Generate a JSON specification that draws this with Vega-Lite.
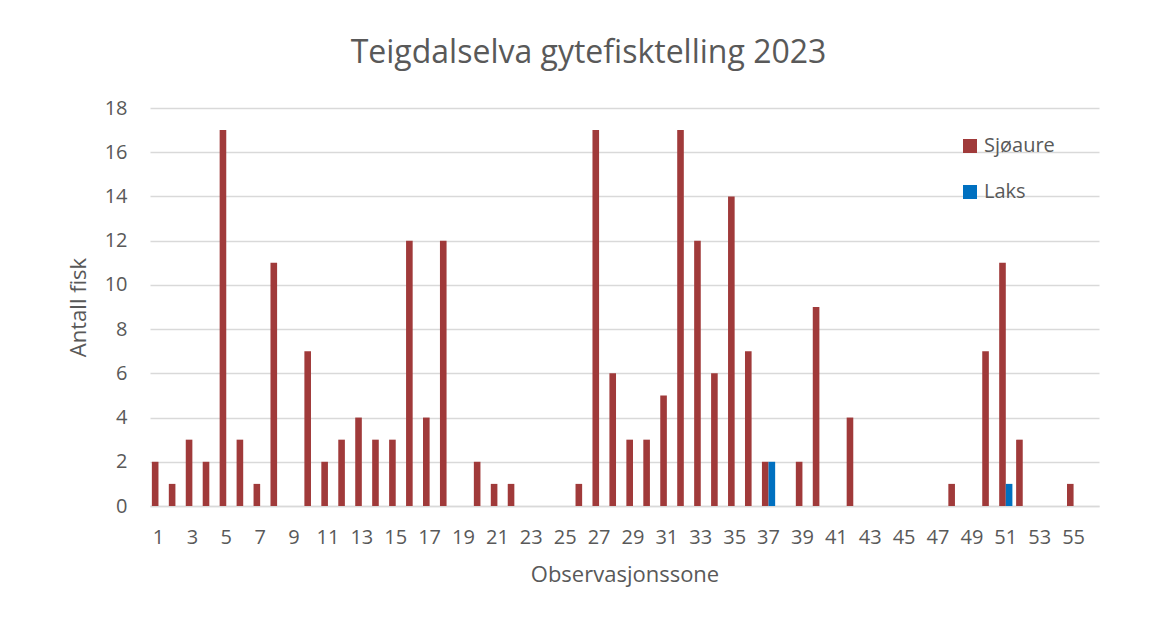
{
  "$schema": "https://vega.github.io/schema/vega-lite/v6.json",
  "autosize": {"type": "none"},
  "width": 949,
  "height": 398,
  "padding": {"left": 150, "top": 108, "right": 75, "bottom": 115},
  "background": "white",
  "title": {
    "text": "Teigdalselva gytefisktelling 2023",
    "font": "Open Sans",
    "fontSize": 32,
    "fontWeight": "normal",
    "color": "#595959",
    "anchor": "middle",
    "dx": -36,
    "offset": 28
  },
  "data": {
    "values": [
      {"sone": 1, "art": "Sjøaure", "antall": 2},
      {"sone": 2, "art": "Sjøaure", "antall": 1},
      {"sone": 3, "art": "Sjøaure", "antall": 3},
      {"sone": 4, "art": "Sjøaure", "antall": 2},
      {"sone": 5, "art": "Sjøaure", "antall": 17},
      {"sone": 6, "art": "Sjøaure", "antall": 3},
      {"sone": 7, "art": "Sjøaure", "antall": 1},
      {"sone": 8, "art": "Sjøaure", "antall": 11},
      {"sone": 9, "art": "Sjøaure", "antall": 0},
      {"sone": 10, "art": "Sjøaure", "antall": 7},
      {"sone": 11, "art": "Sjøaure", "antall": 2},
      {"sone": 12, "art": "Sjøaure", "antall": 3},
      {"sone": 13, "art": "Sjøaure", "antall": 4},
      {"sone": 14, "art": "Sjøaure", "antall": 3},
      {"sone": 15, "art": "Sjøaure", "antall": 3},
      {"sone": 16, "art": "Sjøaure", "antall": 12},
      {"sone": 17, "art": "Sjøaure", "antall": 4},
      {"sone": 18, "art": "Sjøaure", "antall": 12},
      {"sone": 19, "art": "Sjøaure", "antall": 0},
      {"sone": 20, "art": "Sjøaure", "antall": 2},
      {"sone": 21, "art": "Sjøaure", "antall": 1},
      {"sone": 22, "art": "Sjøaure", "antall": 1},
      {"sone": 23, "art": "Sjøaure", "antall": 0},
      {"sone": 24, "art": "Sjøaure", "antall": 0},
      {"sone": 25, "art": "Sjøaure", "antall": 0},
      {"sone": 26, "art": "Sjøaure", "antall": 1},
      {"sone": 27, "art": "Sjøaure", "antall": 17},
      {"sone": 28, "art": "Sjøaure", "antall": 6},
      {"sone": 29, "art": "Sjøaure", "antall": 3},
      {"sone": 30, "art": "Sjøaure", "antall": 3},
      {"sone": 31, "art": "Sjøaure", "antall": 5},
      {"sone": 32, "art": "Sjøaure", "antall": 17},
      {"sone": 33, "art": "Sjøaure", "antall": 12},
      {"sone": 34, "art": "Sjøaure", "antall": 6},
      {"sone": 35, "art": "Sjøaure", "antall": 14},
      {"sone": 36, "art": "Sjøaure", "antall": 7},
      {"sone": 37, "art": "Sjøaure", "antall": 2},
      {"sone": 38, "art": "Sjøaure", "antall": 0},
      {"sone": 39, "art": "Sjøaure", "antall": 2},
      {"sone": 40, "art": "Sjøaure", "antall": 9},
      {"sone": 41, "art": "Sjøaure", "antall": 0},
      {"sone": 42, "art": "Sjøaure", "antall": 4},
      {"sone": 43, "art": "Sjøaure", "antall": 0},
      {"sone": 44, "art": "Sjøaure", "antall": 0},
      {"sone": 45, "art": "Sjøaure", "antall": 0},
      {"sone": 46, "art": "Sjøaure", "antall": 0},
      {"sone": 47, "art": "Sjøaure", "antall": 0},
      {"sone": 48, "art": "Sjøaure", "antall": 1},
      {"sone": 49, "art": "Sjøaure", "antall": 0},
      {"sone": 50, "art": "Sjøaure", "antall": 7},
      {"sone": 51, "art": "Sjøaure", "antall": 11},
      {"sone": 52, "art": "Sjøaure", "antall": 3},
      {"sone": 53, "art": "Sjøaure", "antall": 0},
      {"sone": 54, "art": "Sjøaure", "antall": 0},
      {"sone": 55, "art": "Sjøaure", "antall": 1},
      {"sone": 37, "art": "Laks", "antall": 2},
      {"sone": 51, "art": "Laks", "antall": 1}
    ]
  },
  "mark": {"type": "bar"},
  "encoding": {
    "x": {
      "field": "sone",
      "type": "ordinal",
      "scale": {
        "domain": [1,2,3,4,5,6,7,8,9,10,11,12,13,14,15,16,17,18,19,20,21,22,23,24,25,26,27,28,29,30,31,32,33,34,35,36,37,38,39,40,41,42,43,44,45,46,47,48,49,50,51,52,53,54,55,56],
        "paddingInner": 0.22,
        "paddingOuter": 0.11
      },
      "axis": {
        "values": [1,3,5,7,9,11,13,15,17,19,21,23,25,27,29,31,33,35,37,39,41,43,45,47,49,51,53,55],
        "labelAngle": 0,
        "labelFont": "Open Sans",
        "labelFontSize": 20,
        "labelColor": "#595959",
        "labelPadding": 21,
        "ticks": false,
        "domain": true,
        "domainColor": "#D9D9D9",
        "domainWidth": 1.5,
        "grid": false,
        "title": "Observasjonssone",
        "titleFont": "Open Sans",
        "titleFontSize": 22,
        "titleFontWeight": "normal",
        "titleColor": "#595959",
        "titlePadding": 17
      }
    },
    "xOffset": {
      "field": "art",
      "type": "nominal",
      "scale": {"domain": ["Sjøaure", "Laks"], "paddingInner": 0, "paddingOuter": 0}
    },
    "y": {
      "field": "antall",
      "type": "quantitative",
      "scale": {"domain": [0, 18], "nice": false},
      "axis": {
        "values": [0,2,4,6,8,10,12,14,16,18],
        "labelFont": "Open Sans",
        "labelFontSize": 20,
        "labelColor": "#595959",
        "labelPadding": 23,
        "ticks": false,
        "domain": false,
        "grid": true,
        "gridColor": "#D9D9D9",
        "gridWidth": 1.5,
        "title": "Antall fisk",
        "titleFont": "Open Sans",
        "titleFontSize": 22,
        "titleFontWeight": "normal",
        "titleColor": "#595959",
        "titlePadding": 14
      }
    },
    "color": {
      "field": "art",
      "type": "nominal",
      "scale": {"domain": ["Sjøaure", "Laks"], "range": ["#A03A3A", "#0070C0"]},
      "legend": {
        "title": null,
        "orient": "none",
        "legendX": 810,
        "legendY": 28,
        "symbolType": "square",
        "symbolSize": 196,
        "symbolStrokeWidth": 0,
        "labelFont": "Open Sans",
        "labelFontSize": 20,
        "labelColor": "#595959",
        "labelOffset": 4,
        "rowPadding": 26
      }
    }
  },
  "config": {
    "view": {"stroke": null}
  }
}
